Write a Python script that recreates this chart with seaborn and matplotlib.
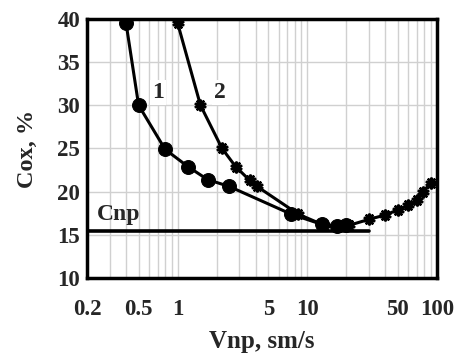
import matplotlib
matplotlib.use('Agg')
import matplotlib.pyplot as plt
import matplotlib.ticker as mticker
import seaborn as sns
import pandas as pd

# curve 1 (circles)
v1 = [0.4, 0.5, 0.8, 1.2, 1.7, 2.5, 7.5, 13, 17, 20]
c1 = [39.5, 30, 24.9, 22.9, 21.4, 20.6, 17.4, 16.2, 16.0, 16.1]
# curve 2 (stars)
v2 = [1.0, 1.5, 2.2, 2.8, 3.6, 4.1, 8.5, 13.5, 18, 21, 30, 40, 50, 60, 70, 78, 90]
c2 = [39.5, 30, 25, 22.9, 21.3, 20.6, 17.4, 16.1, 16.0, 16.1, 16.8, 17.3, 17.9, 18.4, 19.0, 20.0, 21.0]
# Cnp level
cnp_v = [0.2, 30]
cnp_c = [15.4, 15.4]

xticks = [0.2, 0.5, 1, 5, 10, 50, 100]
xticklabels = ['0.2', '0.5', '1', '5', '10', '50', '100']
yticks = [10, 15, 20, 25, 30, 35, 40]

df1 = pd.DataFrame({'V': v1, 'C': c1})
df2 = pd.DataFrame({'V': v2, 'C': c2})
dfc = pd.DataFrame({'V': cnp_v, 'C': cnp_c})

sns.set_style('white')
plt.rcParams['font.family'] = ['Liberation Serif', 'DejaVu Serif']
plt.rcParams['font.weight'] = 'bold'

fig = plt.figure(figsize=(4.58, 3.56), dpi=100)
ax = fig.add_axes([0.19, 0.219, 0.764, 0.728])

sns.lineplot(data=dfc, x='V', y='C', ax=ax, color='black', linewidth=2.6, sort=False)
sns.lineplot(data=df1, x='V', y='C', ax=ax, color='black', linewidth=2.2, sort=False,
             marker='o', markersize=10, markeredgecolor='black')
sns.lineplot(data=df2, x='V', y='C', ax=ax, color='black', linewidth=2.2, sort=False,
             marker=(10, 1, 0), markersize=8.5, markeredgecolor='black', markeredgewidth=1.5)

ax.set_xscale('log')
ax.set_xlim(0.2, 100)
ax.set_ylim(10, 40)
ax.set_xticks(xticks)
ax.set_xticklabels(xticklabels)
ax.xaxis.set_minor_locator(mticker.LogLocator(base=10, subs=range(1, 10), numticks=20))
ax.xaxis.set_minor_formatter(mticker.NullFormatter())
ax.set_yticks(yticks)

ax.grid(True, which='both', axis='x', color='#d0d0d0', linewidth=1)
ax.grid(True, which='major', axis='y', color='#d0d0d0', linewidth=1)
ax.set_axisbelow(True)

for s in ax.spines.values():
    s.set_color('black')
    s.set_linewidth(2.5)

ax.tick_params(axis='both', which='both', length=0, labelsize=16.5)
ax.tick_params(axis='x', pad=15)
ax.tick_params(axis='y', pad=5)
for lab in ax.get_xticklabels() + ax.get_yticklabels():
    lab.set_fontweight('bold')

ax.set_xlabel('Vnp, sm/s', fontsize=18, fontweight='bold', labelpad=7)
ax.set_ylabel('Cox, %', fontsize=17.5, fontweight='bold', labelpad=14)

bbox = dict(facecolor='white', edgecolor='none', pad=1.5)
ax.text(0.705, 31.5, '1', fontsize=17, fontweight='bold', ha='center', va='center', bbox=bbox)
ax.text(2.12, 31.5, '2', fontsize=17, fontweight='bold', ha='center', va='center', bbox=bbox)
ax.text(0.24, 17.4, 'Cnp', fontsize=17, fontweight='bold', ha='left', va='center')

fig.savefig('out.png', dpi=100)
